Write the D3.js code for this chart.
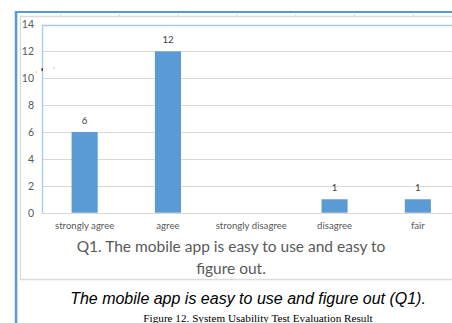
<!DOCTYPE html>
<html>
<head>
<meta charset="utf-8">
<script src="https://cdn.jsdelivr.net/npm/d3@7/dist/d3.min.js"></script>
<style>
  html, body { margin: 0; padding: 0; background: #fff; overflow: hidden; }
  svg { display: block; }
</style>
</head>
<body>
<svg id="chart" width="452" height="323"></svg>
<script>
// Survey answers for Q1
const categories = ["strongly agree", "agree", "strongly disagree", "disagree", "fair"];
const counts = [6, 12, 0, 1, 1];
const yTicks = [0, 2, 4, 6, 8, 10, 12, 14];
const chartTitle = ["Q1. The mobile app is easy to use and easy to", "figure out."];
const caption = "The mobile app is easy to use and figure out (Q1).";
const figureLabel = "Figure 12. System Usability Test Evaluation Result";

const svg = d3.select("#chart");
const W = 452, H = 323;
const labelFont = "Lato, 'Open Sans', sans-serif";

// Page frame: blue rule along top and left edge
svg.append("rect").attr("x", 15).attr("y", 11).attr("width", W).attr("height", 2)
  .attr("fill", "#5b9bd5");
svg.append("rect").attr("x", 15).attr("y", 11).attr("width", 2).attr("height", H)
  .attr("fill", "#5b9bd5");
svg.append("rect").attr("x", 14.5).attr("y", 10.5).attr("width", 0.5).attr("height", H)
  .attr("fill", "#a8c8ea");
svg.append("rect").attr("x", 17).attr("y", 13).attr("width", 0.6).attr("height", H)
  .attr("fill", "#a8c8ea");

// Chart area border (gray)
svg.append("path")
  .attr("d", `M${W},16.5 H20.5 V279.5 H${W}`)
  .attr("fill", "none").attr("stroke", "#dcdcdc").attr("stroke-width", 1.4);

// small ruler ticks on the top border
const rulerTicks = d3.range(60, W, 58.8);
svg.selectAll(".ruler").data(rulerTicks).join("rect")
  .attr("x", d => d).attr("y", 14.5).attr("width", 1).attr("height", 2)
  .attr("fill", "#d4d4d4");

// Scales
const plotLeft = 43, plotRight = 459.5;
const x = d3.scaleBand().domain(categories).range([plotLeft, plotRight])
  .paddingInner(0.687).paddingOuter(0.3435);
const y = d3.scaleLinear().domain([0, 14]).range([212.7, 24.5]);

const rows = categories.map((c, i) => ({ category: c, value: counts[i] }));

// Gridlines
svg.append("g")
  .selectAll("line").data(yTicks.filter(d => d > 0)).join("line")
  .attr("x1", plotLeft).attr("x2", W)
  .attr("y1", d => Math.round(y(d)) + 0.5).attr("y2", d => Math.round(y(d)) + 0.5)
  .attr("stroke", "#d9d9d9").attr("stroke-width", 1);

// Plot area outline (selected state, light blue top and left)
svg.append("path")
  .attr("d", `M${W},${Math.round(y(14)) + 0.5} H${plotLeft - 0.5} V${Math.round(y(0)) + 0.5}`)
  .attr("fill", "none").attr("stroke", "#a9c9ea").attr("stroke-width", 1.3);

// Y axis labels
const yAxis = d3.axisLeft(y).tickValues(yTicks).tickSize(0).tickPadding(0);
const yg = svg.append("g").attr("transform", "translate(34,0)").call(yAxis);
yg.select(".domain").remove();
yg.selectAll("text")
  .attr("font-family", labelFont)
  .attr("font-size", 10.5).attr("fill", "#595959");

// Bars
svg.append("g").selectAll("rect").data(rows).join("rect")
  .attr("x", d => x(d.category))
  .attr("y", d => y(d.value))
  .attr("width", x.bandwidth())
  .attr("height", d => y(0) - y(d.value))
  .attr("fill", "#5b9bd5");

// Baseline axis
const xAxis = d3.axisBottom(x).tickSize(0).tickPadding(9);
const xg = svg.append("g").attr("transform", `translate(0,${Math.round(y(0)) + 0.5})`).call(xAxis);
xg.select(".domain").attr("d", `M${plotLeft},0 H${W}`).attr("stroke", "#d9d9d9");
xg.selectAll("text")
  .attr("font-family", labelFont)
  .attr("font-size", 9.6).attr("fill", "#595959");

// Value labels
svg.append("g").selectAll("text").data(rows.filter(d => d.value > 0)).join("text")
  .attr("x", d => x(d.category) + x.bandwidth() / 2)
  .attr("y", d => y(d.value) - 8)
  .attr("text-anchor", "middle")
  .attr("font-family", labelFont)
  .attr("font-size", 9.6).attr("fill", "#404040")
  .text(d => d.value);

// Chart title
svg.append("g").selectAll("text").data(chartTitle).join("text")
  .attr("x", 231).attr("y", (d, i) => 252 + i * 21.5)
  .attr("text-anchor", "middle")
  .attr("font-family", labelFont)
  .attr("font-size", 15.5).attr("fill", "#595959")
  .text(d => d);

// Caption
svg.append("text")
  .attr("x", 248).attr("y", 304)
  .attr("text-anchor", "middle")
  .attr("font-family", "'Liberation Sans', Arial, sans-serif")
  .attr("font-style", "italic")
  .attr("font-size", 16).attr("fill", "#000")
  .text(caption);

// Figure label at the bottom edge
svg.append("text")
  .attr("x", 258).attr("y", 322)
  .attr("text-anchor", "middle")
  .attr("font-family", "'Liberation Serif', 'Times New Roman', serif")
  .attr("font-size", 11.2).attr("fill", "#000")
  .text(figureLabel);

// stray marks on the left of the plot
svg.append("rect").attr("x", 41.5).attr("y", 68).attr("width", 1.5).attr("height", 3).attr("fill", "#5a3a2a");
svg.append("rect").attr("x", 36).attr("y", 71.5).attr("width", 1).attr("height", 1).attr("fill", "#e08040");
svg.append("rect").attr("x", 53.5).attr("y", 67.5).attr("width", 1).attr("height", 1).attr("fill", "#60a8a0");
</script>
</body>
</html>
